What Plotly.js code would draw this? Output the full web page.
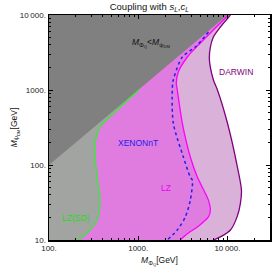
<!DOCTYPE html>
<html><head><meta charset="utf-8">
<script src="https://cdn.plot.ly/plotly-3.0.1.min.js"></script>
<style>html,body{margin:0;padding:0;background:#fff}#plot{width:274px;height:272px}</style>
</head><body><div id="plot"></div>
<script>
// LZ (spin-dependent) boundary
const lzsdMass = [1020, 581, 374, 329, 329, 346, 374, 346, 267, 212];
const lzsdDM   = [1000, 541, 321, 196, 128, 69, 34, 18.5, 12.4, 10];
// LZ boundary
const lzMass = [10260, 4977, 3556, 2812, 2673, 2742, 3119, 3837, 4603, 6124, 6442, 6124, 5370, 4603, 3648, 3119, 2965];
const lzDM   = [10000, 4236, 2754, 1738, 1240, 1000, 363, 128, 69, 34, 25.1, 20.3, 17.4, 14.9, 12.4, 10.6, 10];
// XENONnT boundary
const xenonMass = [6124, 4365, 3119, 2472, 2410, 2472, 3206, 3837, 4046, 3837, 3373, 2742, 2118];
const xenonDM   = [5934, 3744, 2754, 1359, 1031, 363, 128, 69, 63, 34, 20.3, 13.6, 10];
// DARWIN boundary
const darwinMass = [10810, 8337, 6966, 6442, 6281, 6966, 7727, 10000, 12940, 14360, 13990, 12850, 10810, 8337, 6966];
const darwinDM   = [10000, 6918, 5092, 3744, 2512, 1359, 1000, 363, 94, 46.4, 31.1, 20.5, 13.6, 11, 10];
// Diagonal M_PhiQ = M_psiDM and axis corners
const diagMass = [100, 100, 10000];
const diagDM   = [100, 10000, 10000];
const xTickVals = [100, 1000, 10000];
const xTickText = ["100.", "1000.", "10\u2009000."];
const yTickVals = [10, 100, 1000, 10000];
const yTickText = ["10.", "100.", "1000.", "10\u2009000."];
const xMinor = [200,300,400,500,600,700,800,900,2000,3000,4000,5000,6000,7000,8000,9000,20000,30000];
const yMinor = [20,30,40,50,60,70,80,90,200,300,400,500,600,700,800,900,2000,3000,4000,5000,6000,7000,8000,9000];

function region(mass, dm, color) {
  return {x: [100].concat(mass, [100]), y: [10000].concat(dm, [10]),
    mode: 'lines', fill: 'toself', fillcolor: color, line: {width: 0}, hoverinfo: 'skip', showlegend: false};
}
function curve(mass, dm, color, dash, w) {
  return {x: mass, y: dm, mode: 'lines', line: {color: color, width: w, dash: dash, shape: 'spline', smoothing: 0.8},
    hoverinfo: 'skip', showlegend: false};
}
const traces = [
  region(darwinMass, darwinDM, '#d9b1d9'),
  region(lzMass, lzDM, '#e07ce0'),
  region(lzsdMass, lzsdDM, '#a1a4a0'),
  {x: diagMass, y: diagDM, mode: 'lines', fill: 'toself', fillcolor: '#808080', line: {width: 0}, hoverinfo: 'skip', showlegend: false},
  curve(lzsdMass, lzsdDM, '#33ee33', 'solid', 1.3),
  curve(lzMass, lzDM, '#ff00ff', 'solid', 1.3),
  curve(xenonMass, xenonDM, '#2020ee', '3px,3px', 1.5),
  curve(darwinMass, darwinDM, '#800080', 'solid', 1.3)
];
const fnt = {family: 'Liberation Sans, Arial, sans-serif', size: 8, color: '#222'};
const ann = (x, y, text, color, size) => ({x: Math.log10(x), y: Math.log10(y), text: text, showarrow: false,
  font: {family: 'Liberation Sans, Arial, sans-serif', size: size, color: color}});
const layout = {
  width: 274, height: 272,
  margin: {l: 49, r: 4, t: 15, b: 32},
  paper_bgcolor: '#fff', plot_bgcolor: '#fff',
  title: {text: 'Coupling with <i>s<sub>L</sub></i>,<i>c<sub>L</sub></i>', font: {family: 'Liberation Sans, Arial, sans-serif', size: 9.5, color: '#111'},
    x: 0.545, xanchor: 'center', y: 0.975, yanchor: 'middle', yref: 'container'},
  xaxis: {type: 'log', range: [2, Math.log10(30000)], tickvals: xTickVals, ticktext: xTickText,
    ticks: 'inside', ticklen: 4, tickcolor: '#000', showline: true, linecolor: '#000', linewidth: 1.5, mirror: 'allticks',
    showgrid: false, zeroline: false, tickfont: fnt,
    minor: {tickvals: xMinor, ticks: 'inside', ticklen: 2, tickcolor: '#000', showgrid: false},
    title: {text: '<i>M</i><sub>Φ<sub>Q</sub></sub>[GeV]', font: {family: 'Liberation Sans, Arial, sans-serif', size: 8.5, color: '#111'}, standoff: 5}},
  yaxis: {type: 'log', range: [1, 4], tickvals: yTickVals, ticktext: yTickText,
    ticks: 'inside', ticklen: 4, tickcolor: '#000', showline: true, linecolor: '#000', linewidth: 1.5, mirror: 'allticks',
    showgrid: false, zeroline: false, tickfont: fnt,
    minor: {tickvals: yMinor, ticks: 'inside', ticklen: 2, tickcolor: '#000', showgrid: false},
    title: {text: '<i>M</i><sub>ψ<sub>DM</sub></sub>[GeV]', font: {family: 'Liberation Sans, Arial, sans-serif', size: 8.5, color: '#111'}, standoff: 1}},
  annotations: [
    ann(1400, 4236, '<i>M</i><sub>Φ<sub>Q</sub></sub><<i>M</i><sub>ψ<sub>DM</sub></sub>', '#111', 8.5),
    ann(12620, 1738, 'DARWIN', '#800080', 8.5),
    ann(1000, 196, 'XENONnT', '#2020ee', 8.5),
    ann(2065, 49.3, 'LZ', '#ee00ee', 8.5),
    ann(201, 19.6, 'LZ(SD)', '#22dd22', 8.5)
  ]
};
Plotly.newPlot('plot', traces, layout, {staticPlot: true, displayModeBar: false});
</script></body></html>
